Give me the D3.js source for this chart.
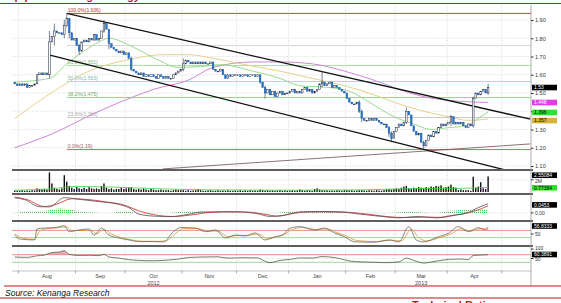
<!DOCTYPE html>
<html>
<head>
<meta charset="utf-8">
<title>Price chart with channel and Fibonacci levels</title>
<script src="https://cdn.jsdelivr.net/npm/d3@7"></script>
<style>
  body { margin: 0; background: #fff; }
  svg text { font-family: "Liberation Sans", Arial, sans-serif; }
</style>
</head>
<body>
<script>

// ---- data ----
var monthNames = ['Jul', 'Aug', 'Sep', 'Oct', 'Nov', 'Dec', 'Jan', 'Feb', 'Mar', 'Apr']
var monthFirst = ['2012-07-30', '2012-08-01', '2012-09-01', '2012-10-01', '2012-11-01', '2012-12-01',
                  '2013-01-01', '2013-02-01', '2013-03-01', '2013-04-01']

// daily closes per month
var closeJul = [1.55, 1.54]
var closeAug = [1.55, 1.54, 1.55, 1.53, 1.54, 1.54, 1.55, 1.60, 1.61, 1.60, 1.61, 1.60, 1.78, 1.81, 1.84, 1.83, 1.83, 1.82, 1.87, 1.91, 1.83, 1.79, 1.80]
var closeSep = [1.76, 1.73, 1.78, 1.79, 1.78, 1.80, 1.79, 1.82, 1.79, 1.80, 1.84, 1.88, 1.85, 1.77, 1.75, 1.74, 1.73, 1.72, 1.73, 1.71]
var closeOct = [1.72, 1.69, 1.63, 1.62, 1.61, 1.60, 1.61, 1.59, 1.60, 1.59, 1.60, 1.59, 1.58, 1.60, 1.59, 1.58, 1.59, 1.58, 1.58, 1.60, 1.61, 1.62, 1.63]
var closeNov = [1.66, 1.68, 1.67, 1.66, 1.67, 1.66, 1.67, 1.66, 1.67, 1.66, 1.66, 1.67, 1.63, 1.62, 1.62, 1.63, 1.60, 1.58, 1.60, 1.59, 1.60, 1.60]
var closeDec = [1.60, 1.59, 1.60, 1.60, 1.59, 1.60, 1.60, 1.59, 1.60, 1.56, 1.53, 1.50, 1.52, 1.49, 1.51, 1.48, 1.50, 1.51, 1.49, 1.50, 1.50]
var closeJan = [1.51, 1.52, 1.50, 1.51, 1.50, 1.52, 1.53, 1.51, 1.52, 1.50, 1.51, 1.52, 1.55, 1.56, 1.54, 1.55, 1.56, 1.53, 1.54, 1.53, 1.52, 1.51, 1.50]
var closeFeb = [1.47, 1.45, 1.44, 1.44, 1.45, 1.40, 1.36, 1.35, 1.35, 1.36, 1.35, 1.36, 1.35, 1.34, 1.33, 1.33, 1.31, 1.28, 1.25, 1.29]
var closeMar = [1.31, 1.33, 1.32, 1.34, 1.40, 1.38, 1.32, 1.29, 1.27, 1.28, 1.23, 1.21, 1.24, 1.27, 1.26, 1.29, 1.28, 1.31, 1.33, 1.32, 1.33]
var closeApr = [1.34, 1.37, 1.33, 1.34, 1.33, 1.34, 1.32, 1.31, 1.33, 1.32, 1.47, 1.50, 1.49, 1.51, 1.52, 1.50, 1.53]

// daily volume per month (millions)
var volJul = [0.25, 0.2]
var volAug = [0.2, 0.3, 0.2, 0.25, 0.2, 0.3, 0.25, 0.6, 0.5, 0.45, 0.5, 0.4, 3.2, 1.4, 0.7, 0.5, 0.4, 0.6, 2.75, 1.7, 1.0, 0.7, 0.5]
var volSep = [0.8, 0.6, 0.5, 0.7, 0.5, 0.8, 0.6, 0.5, 0.6, 0.5, 1.0, 1.4, 0.7, 0.5, 0.6, 0.4, 0.5, 0.5, 0.7, 0.5]
var volOct = [0.6, 0.7, 0.8, 0.5, 0.4, 0.5, 0.4, 0.6, 0.4, 0.3, 0.5, 0.4, 0.3, 0.3, 0.4, 0.3, 0.3, 0.3, 0.2, 0.3, 0.4, 0.3, 0.3]
var volNov = [0.3, 0.2, 0.3, 0.2, 0.25, 0.3, 0.5, 0.3, 0.2, 0.2, 0.25, 0.3, 0.2, 0.2, 0.3, 0.2, 0.25, 0.2, 0.3, 0.2, 0.2, 0.25]
var volDec = [0.2, 0.3, 0.2, 0.25, 0.2, 0.3, 0.2, 0.25, 0.2, 0.4, 0.3, 0.2, 0.3, 0.2, 0.25, 0.2, 0.2, 0.3, 0.2, 0.25, 0.2]
var volJan = [0.2, 0.3, 0.2, 0.25, 0.4, 0.3, 0.2, 0.3, 0.25, 0.2, 0.5, 0.6, 0.4, 0.3, 0.25, 0.3, 0.2, 0.25, 0.2, 0.3, 0.25, 0.2, 0.3]
var volFeb = [0.3, 0.25, 0.3, 0.2, 0.25, 0.3, 0.3, 0.25, 0.2, 0.3, 0.25, 0.2, 0.3, 0.25, 0.2, 0.3, 0.45, 0.5, 0.4, 0.5]
var volMar = [0.6, 0.5, 0.7, 0.9, 1.0, 0.6, 0.5, 0.7, 0.6, 0.8, 0.7, 0.6, 0.8, 0.7, 0.9, 0.8, 1.0, 0.9, 1.1, 0.7, 0.8]
var volApr = [0.9, 1.2, 0.8, 0.7, 0.3, 0.4, 0.3, 0.3, 0.3, 0.2, 2.5, 0.7, 0.9, 1.6, 0.6, 0.5, 2.55]

// [day index, high, low] for candles with visible wicks
var wicks = [[14, 1.84, 1.58], [16, 1.88, 1.76], [20, 1.90, 1.80], [21, 1.936, 1.86], [22, 1.90, 1.80],
             [26, 1.77, 1.71], [36, 1.90, 1.83], [38, 1.82, 1.74], [47, 1.70, 1.62], [68, 1.69, 1.62],
             [99, 1.60, 1.55], [101, 1.54, 1.47], [124, 1.62, 1.53], [139, 1.46, 1.39], [140, 1.41, 1.34],
             [151, 1.32, 1.26], [152, 1.29, 1.23], [158, 1.42, 1.33], [165, 1.24, 1.19], [176, 1.38, 1.32],
             [185, 1.48, 1.31], [191, 1.55, 1.49]]

// moving averages [day index, value]
var maGreen = [[0, 1.56], [14, 1.58], [21, 1.66], [28, 1.73], [34, 1.78], [38, 1.80], [48, 1.75], [58, 1.68],
               [66, 1.64], [75, 1.645], [83, 1.655], [96, 1.62], [107, 1.58], [115, 1.54], [127, 1.53], [135, 1.51],
               [143, 1.45], [153, 1.37], [161, 1.33], [168, 1.30], [175, 1.31], [182, 1.32], [187, 1.36], [191, 1.396]]
var maYellow = [[0, 1.36], [17, 1.52], [30, 1.62], [45, 1.68], [60, 1.71], [70, 1.71], [80, 1.69], [95, 1.65],
                [107, 1.62], [120, 1.58], [133, 1.54], [145, 1.49], [155, 1.44], [165, 1.40], [175, 1.37],
                [183, 1.35], [191, 1.357]]
var maMagenta = [[0, 1.20], [14, 1.27], [34, 1.40], [48, 1.48], [56, 1.52], [70, 1.57], [80, 1.64], [96, 1.67],
                 [107, 1.67], [120, 1.66], [133, 1.62], [145, 1.57], [155, 1.52], [165, 1.48], [175, 1.46], [191, 1.448]]

// trend lines [[index, price], [index, price]]
var channelUpper = [[21, 1.936], [208, 1.357]]
var channelLower = [[14.2, 1.708], [198, 1.078]]
var supportLine = [[59.7, 1.084], [208, 1.221]]

// Fibonacci retracement
var fibPct = ['100.0%', '76.4%', '61.8%', '50.0%', '38.2%', '23.6%', '0.0%']
var fibPrice = [1.936, 1.760, 1.651, 1.563, 1.475, 1.366, 1.19]
var fibStart = 21

// volume moving average
var volMA = [[0, 0.3], [14, 0.5], [25, 0.9], [40, 0.8], [60, 0.5], [80, 0.35], [110, 0.3], [140, 0.35],
             [160, 0.55], [180, 0.6], [191, 0.77]]

// MACD panel
var macdLine = [[0, 0.085], [4, 0.075], [10, 0.035], [14, 0.034], [20, 0.086], [27, 0.075], [34, 0.064], [42, 0.048],
                [46, 0.03], [50, -0.006], [56, -0.018], [63, -0.021], [70, -0.008], [75, 0.005], [85, 0.007], [91, 0.006],
                [98, -0.005], [103, -0.02], [108, -0.015], [115, 0.006], [125, 0.008], [133, 0.004], [140, -0.008],
                [148, -0.02], [155, -0.028], [160, -0.022], [163, -0.02], [170, -0.028], [176, -0.015], [183, 0.002],
                [187, 0.03], [191, 0.052]]
var macdSignal = [[0, 0.09], [5, 0.075], [12, 0.036], [17, 0.05], [23, 0.08], [30, 0.075], [37, 0.062], [44, 0.045],
                  [50, 0.012], [56, -0.01], [64, -0.02], [72, -0.01], [78, 0.002], [88, 0.006], [95, 0.004], [101, -0.008],
                  [106, -0.018], [112, -0.004], [118, 0.006], [128, 0.006], [136, 0.002], [143, -0.008], [151, -0.022],
                  [158, -0.026], [165, -0.024], [172, -0.025], [178, -0.012], [185, 0.008], [191, 0.04]]
var macdHist = [[0, -0.005], [5, 0.008], [10, 0.01], [14, 0.015], [18, 0.025], [22, 0.02], [27, 0.005], [32, 0.002],
                [38, -0.004], [42, 0.008], [46, 0.01], [50, -0.008], [56, -0.005], [62, 0], [68, 0.008], [74, 0.01],
                [80, 0.004], [88, 0.002], [96, -0.006], [104, -0.004], [110, 0.008], [116, 0.01], [124, 0.009],
                [132, 0.004], [140, -0.006], [150, -0.004], [158, 0.006], [164, 0.002], [170, 0], [176, 0.012],
                [182, 0.018], [188, 0.02], [191, 0.018]]

// oscillator panel
var stochDark = [[0, 44], [2, 22], [8, 17], [9, 78], [12, 83], [16, 85], [20, 96], [22, 63], [26, 72], [30, 78], [32, 44],
                 [35, 83], [38, 44], [42, 28], [46, 17], [50, 8], [56, 8], [60, 6], [64, 63], [67, 86], [73, 83], [77, 63],
                 [81, 72], [85, 28], [89, 44], [93, 39], [97, 56], [101, 17], [105, 35], [108, 44], [111, 82], [115, 91],
                 [121, 72], [125, 83], [129, 56], [133, 35], [137, 7], [145, 4], [151, 17], [155, 6], [159, 91], [162, 17],
                 [165, 6], [171, 35], [175, 54], [179, 91], [183, 63], [187, 85], [190, 72], [191, 88]]
var stochOrange = [[0, 50], [3, 28], [8, 20], [10, 65], [13, 80], [17, 84], [21, 90], [23, 70], [27, 70], [31, 70], [33, 52],
                   [36, 75], [39, 50], [43, 30], [47, 18], [51, 10], [57, 9], [61, 12], [65, 55], [68, 80], [74, 80], [78, 66],
                   [82, 66], [86, 35], [90, 42], [94, 42], [98, 50], [102, 25], [106, 35], [109, 50], [112, 75], [116, 86],
                   [122, 75], [126, 78], [130, 58], [134, 38], [138, 14], [146, 8], [152, 16], [156, 12], [160, 75], [163, 30],
                   [166, 12], [172, 32], [176, 50], [180, 80], [184, 66], [188, 80], [191, 78]]

// RSI panel
var rsiLine = [[0, 58], [5, 56], [9, 64], [12, 68], [14, 78], [16, 82], [18, 84], [20, 91], [22, 72], [26, 66], [30, 67],
               [34, 65], [36, 72], [38, 58], [42, 52], [46, 44], [50, 40], [56, 38], [62, 42], [66, 47], [70, 55], [76, 58],
               [82, 59], [86, 52], [92, 54], [98, 53], [100, 42], [103, 28], [107, 40], [111, 45], [115, 53], [120, 52],
               [124, 60], [127, 58], [131, 50], [135, 37], [140, 32], [145, 30], [150, 28], [155, 32], [158, 52], [161, 40],
               [165, 26], [170, 36], [175, 45], [180, 47], [183, 44], [185, 66], [188, 68], [191, 70]]

// tick labels
var priceTicks = [1.10, 1.20, 1.30, 1.40, 1.50, 1.60, 1.70, 1.80, 1.90]
var yearLabels = [['2012', 'Oct'], ['2013', 'Mar']]

// ---- build the trading-day table ----
var closesByMonth = [closeJul, closeAug, closeSep, closeOct, closeNov, closeDec, closeJan, closeFeb, closeMar, closeApr]
var volsByMonth = [volJul, volAug, volSep, volOct, volNov, volDec, volJan, volFeb, volMar, volApr]
var parseDay = d3.timeParse('%Y-%m-%d')
var days = [], months = []

monthFirst.forEach(function (s, m) {
  var start = parseDay(s)
  var end = d3.timeMonth.offset(d3.timeMonth.floor(start), 1)
  var wk = d3.timeDay.range(start, end).filter(function (d) { return d.getDay() > 0 && d.getDay() < 6 })
  months.push({ name: monthNames[m], first: days.length, count: wk.length })
  closesByMonth[m].forEach(function (c, k) {
    days.push({ i: days.length, date: wk[k], close: c, vol: volsByMonth[m][k] })
  })
})
days.forEach(function (d, k) {
  d.open = k ? days[k - 1].close : 1.56
  d.high = Math.max(d.open, d.close)
  d.low = Math.min(d.open, d.close)
})
wicks.forEach(function (w) { days[w[0]].high = w[1]; days[w[0]].low = w[2] })

// ---- scales ----
var left = 12, right = 531
var x = d3.scaleLinear().domain([-1.1, 208.3]).range([left, right])
var yP = d3.scaleLinear().domain([1.10, 1.90]).range([166, 20])
var yV = d3.scaleLinear().domain([0, 3]).range([192, 173.7])
var yM = d3.scaleLinear().domain([-0.04, 0.10]).range([220, 195.2])
var yS = d3.scaleLinear().domain([0, 100]).range([243, 225])
var yR = d3.scaleLinear().domain([0, 100]).range([268, 249])

var svg = d3.select('body').append('svg').attr('width', 561).attr('height', 303)

var defs = svg.append('defs')
defs.append('clipPath').attr('id', 'clipP').append('rect').attr('x', left).attr('y', 5).attr('width', right - left).attr('height', 164)
var pat = defs.append('pattern').attr('id', 'histPat').attr('patternUnits', 'userSpaceOnUse').attr('width', 2).attr('height', 2)
pat.append('rect').attr('x', 0).attr('y', 0).attr('width', 0.9).attr('height', 1.2).attr('fill', '#3dbb3d')

// ---- header (cut off at the top edge, as in the source) ----
svg.append('text').attr('x', 2).attr('y', 0.3).attr('fill', '#c4161c')
  .attr('font-size', 11).attr('font-weight', 'bold').text('Top pick: Trading Strategy')
svg.append('line').attr('x1', 0).attr('x2', 561).attr('y1', 3.5).attr('y2', 3.5).attr('stroke', '#c4161c').attr('stroke-width', 1)

// ---- grid ----
var grid = svg.append('g').attr('id', 'grid')
var bounds = months.map(function (m) { return m.first - 0.5 }).slice(1)
var lastM = months[months.length - 1]
bounds.push(lastM.first + lastM.count - 0.5)

grid.selectAll('line.v').data(bounds).join('line').attr('class', 'v')
  .attr('x1', function (d) { return x(d) }).attr('x2', function (d) { return x(d) })
  .attr('y1', 5).attr('y2', 271)
  .attr('stroke', '#bdbdbd').attr('stroke-width', 0.6).attr('stroke-dasharray', '1,1.5')

grid.selectAll('line.hp').data(priceTicks).join('line').attr('class', 'hp')
  .attr('x1', left).attr('x2', right)
  .attr('y1', function (d) { return yP(d) }).attr('y2', function (d) { return yP(d) })
  .attr('stroke', '#c4c4c4').attr('stroke-width', 0.6).attr('stroke-dasharray', '1,1.5')

var subGrid = [[yV, 2], [yM, 0], [yS, 50], [yR, 50]]
subGrid.forEach(function (g) {
  grid.append('line').attr('x1', left).attr('x2', right)
    .attr('y1', g[0](g[1])).attr('y2', g[0](g[1]))
    .attr('stroke', '#c4c4c4').attr('stroke-width', 0.6).attr('stroke-dasharray', '1,1.5')
})

// ---- price panel ----
var pricePanel = svg.append('g').attr('clip-path', 'url(#clipP)')

var fibColor = { '100.0%': '#d9423a', '76.4%': '#d6d6d6', '61.8%': '#a8e0a0', '50.0%': '#9ee3ea',
                 '38.2%': '#86d986', '23.6%': '#c8c8c8', '0.0%': '#c46a6a' }
fibPct.forEach(function (p, k) {
  pricePanel.append('line').attr('x1', x(fibStart)).attr('x2', right)
    .attr('y1', yP(fibPrice[k])).attr('y2', yP(fibPrice[k]))
    .attr('stroke', fibColor[p]).attr('stroke-width', 1)
  if (p !== '76.4%') {
    pricePanel.append('text').attr('x', x(fibStart) + 1).attr('y', yP(fibPrice[k]) - 1.2)
      .attr('font-size', 5).attr('fill', p === '23.6%' ? '#aaa' : d3.color(fibColor[p]).darker(0.6))
      .text(p + '(' + fibPrice[k] + ')')
  }
})

var maLine = d3.line().x(function (d) { return x(d[0]) }).y(function (d) { return yP(d[1]) }).curve(d3.curveMonotoneX)
pricePanel.append('path').attr('d', maLine(maMagenta)).attr('fill', 'none').attr('stroke', '#cf86d6').attr('stroke-width', 1)
pricePanel.append('path').attr('d', maLine(maYellow)).attr('fill', 'none').attr('stroke', '#e6d08a').attr('stroke-width', 1)
pricePanel.append('path').attr('d', maLine(maGreen)).attr('fill', 'none').attr('stroke', '#98d98e').attr('stroke-width', 1)

var straight = d3.line().x(function (d) { return x(d[0]) }).y(function (d) { return yP(d[1]) })
pricePanel.append('path').attr('d', straight(supportLine)).attr('stroke', '#6b5050').attr('stroke-width', 0.8).attr('fill', 'none')
pricePanel.append('path').attr('d', straight(channelUpper)).attr('stroke', '#111').attr('stroke-width', 1.3).attr('fill', 'none')
pricePanel.append('path').attr('d', straight(channelLower)).attr('stroke', '#111').attr('stroke-width', 1.3).attr('fill', 'none')

// candles
var candles = pricePanel.append('g').attr('id', 'candles')
candles.selectAll('line').data(days).join('line')
  .attr('x1', function (d) { return x(d.i) }).attr('x2', function (d) { return x(d.i) })
  .attr('y1', function (d) { return yP(d.high) }).attr('y2', function (d) { return yP(d.low) })
  .attr('stroke', '#1b2a48').attr('stroke-width', 0.6)
candles.selectAll('rect').data(days).join('rect')
  .attr('x', function (d) { return x(d.i) - 0.8 })
  .attr('width', 1.6)
  .attr('y', function (d) { return yP(Math.max(d.open, d.close)) })
  .attr('height', function (d) { return Math.max(0.8, Math.abs(yP(d.open) - yP(d.close))) })
  .attr('fill', function (d) { return d.close < d.open ? '#2a78d2' : '#ffffff' })
  .attr('stroke', function (d) { return d.close < d.open ? '#1f5fa8' : '#14213d' })
  .attr('stroke-width', 0.5)

// ---- volume panel ----
svg.append('g').selectAll('rect').data(days).join('rect')
  .attr('x', function (d) { return x(d.i) - 0.7 })
  .attr('width', 1.4)
  .attr('y', function (d) { return yV(d.vol) })
  .attr('height', function (d) { return yV(0) - yV(d.vol) })
  .attr('fill', '#111')
svg.append('path')
  .attr('d', d3.line().x(function (d) { return x(d[0]) }).y(function (d) { return yV(d[1]) }).curve(d3.curveMonotoneX)(volMA))
  .attr('fill', 'none').attr('stroke', '#3fcf3f').attr('stroke-width', 0.8)

// ---- MACD panel ----
svg.append('path')
  .attr('d', d3.area().x(function (d) { return x(d[0]) }).y0(yM(0)).y1(function (d) { return yM(d[1]) }).curve(d3.curveMonotoneX)(macdHist))
  .attr('fill', 'url(#histPat)')
var mLine = d3.line().x(function (d) { return x(d[0]) }).y(function (d) { return yM(d[1]) }).curve(d3.curveMonotoneX)
svg.append('path').attr('d', mLine(macdSignal)).attr('fill', 'none').attr('stroke', '#d9534f').attr('stroke-width', 1)
svg.append('path').attr('d', mLine(macdLine)).attr('fill', 'none').attr('stroke', '#5b4a5a').attr('stroke-width', 0.8)

// ---- oscillator panel ----
svg.append('line').attr('x1', left).attr('x2', right).attr('y1', yS(70)).attr('y2', yS(70)).attr('stroke', '#e07a6a').attr('stroke-width', 0.8)
svg.append('line').attr('x1', left).attr('x2', right).attr('y1', yS(30)).attr('y2', yS(30)).attr('stroke', '#7fd67f').attr('stroke-width', 0.8)
var sLine = d3.line().x(function (d) { return x(d[0]) }).y(function (d) { return yS(d[1]) }).curve(d3.curveMonotoneX)
svg.append('path').attr('d', sLine(stochOrange)).attr('fill', 'none').attr('stroke', '#e0a050').attr('stroke-width', 0.9)
svg.append('path').attr('d', sLine(stochDark)).attr('fill', 'none').attr('stroke', '#555').attr('stroke-width', 0.7)

// ---- RSI panel ----
defs.append('clipPath').attr('id', 'clipOver').append('rect').attr('x', left).attr('y', 240).attr('width', right - left).attr('height', yR(70) - 240)
var rLine = d3.line().x(function (d) { return x(d[0]) }).y(function (d) { return yR(d[1]) }).curve(d3.curveMonotoneX)
svg.append('path')
  .attr('d', d3.area().x(function (d) { return x(d[0]) }).y0(yR(70)).y1(function (d) { return yR(d[1]) }).curve(d3.curveMonotoneX)(rsiLine))
  .attr('clip-path', 'url(#clipOver)').attr('fill', '#f2a7b0')
svg.append('line').attr('x1', left).attr('x2', right).attr('y1', yR(70)).attr('y2', yR(70)).attr('stroke', '#e07a6a').attr('stroke-width', 0.8)
svg.append('line').attr('x1', left).attr('x2', right).attr('y1', yR(30)).attr('y2', yR(30)).attr('stroke', '#7fd67f').attr('stroke-width', 0.8)
svg.append('path').attr('d', rLine(rsiLine)).attr('fill', 'none').attr('stroke', '#4f5f45').attr('stroke-width', 0.8)

// ---- panel separators and frame ----
var seps = [170, 194, 221, 246]
svg.selectAll('line.sep').data(seps).join('line').attr('class', 'sep')
  .attr('x1', left).attr('x2', right + 2).attr('y1', function (d) { return d }).attr('y2', function (d) { return d })
  .attr('stroke', '#5e5e5e').attr('stroke-width', 2)
svg.append('line').attr('x1', right).attr('x2', right).attr('y1', 5).attr('y2', 286).attr('stroke', '#9a9a9a').attr('stroke-width', 0.8)
svg.append('line').attr('x1', left).attr('x2', right).attr('y1', 271).attr('y2', 271).attr('stroke', '#9a9a9a').attr('stroke-width', 0.6)

// ---- right axes ----
var axP = svg.append('g').attr('transform', 'translate(' + right + ',0)')
  .call(d3.axisRight(yP).tickValues(priceTicks).tickSize(2.5).tickFormat(d3.format('.2f')))
axP.select('.domain').remove()
axP.selectAll('text').attr('font-size', 5.5).attr('fill', '#333').attr('x', 4)
axP.selectAll('line').attr('stroke', '#333')

var subTicks = [[yV, 2, '2M', 182.8], [yM, 0, '0.00', 214.5], [yS, 50, '50', 235.5], [yR, 100, '100', 250], [yR, 50, '50', 261]]
subTicks.forEach(function (t) {
  svg.append('line').attr('x1', right).attr('x2', right + 2.5).attr('y1', t[0](t[1])).attr('y2', t[0](t[1])).attr('stroke', '#333')
  svg.append('text').attr('x', right + 4).attr('y', t[3]).attr('font-size', 5).attr('fill', '#333').text(t[2])
})

// value tags at right
function tag(yy, label, fill, color) {
  svg.append('rect').attr('x', right + 1).attr('y', yy - 2.8).attr('width', 25).attr('height', 5.6).attr('fill', fill)
  svg.append('text').attr('x', right + 3).attr('y', yy + 1.8).attr('font-size', 5).attr('fill', color).text(label)
}
var lastDay = days[days.length - 1]
tag(yP(lastDay.close), lastDay.close.toFixed(2), '#000', '#fff')
tag(yP(maMagenta[maMagenta.length - 1][1]), '1.448', '#e23de6', '#fff')
tag(yP(maGreen[maGreen.length - 1][1]) + 0.5, '1.396', '#2fe02f', '#000')
tag(yP(maYellow[maYellow.length - 1][1]) + 1.5, '1.357', '#d8b33a', '#000')
tag(yV(lastDay.vol) - 1.2, '2.55084', '#000', '#fff')
tag(yV(volMA[volMA.length - 1][1]) + 0.5, '0.77384', '#2fe02f', '#000')
tag(yM(0.0453), '0.0453', '#000', '#fff')
tag(226, '56.8333', '#000', '#fff')
tag(254.5, '60.3891', '#000', '#fff')

// ---- bottom time axis ----
var axis = svg.append('g')
axis.selectAll('line').data(bounds).join('line')
  .attr('x1', function (d) { return x(d) }).attr('x2', function (d) { return x(d) })
  .attr('y1', 271).attr('y2', 273.5).attr('stroke', '#777').attr('stroke-width', 0.6)
var labelled = months.filter(function (m) { return m.count > 5 })
axis.selectAll('text.m').data(labelled).join('text').attr('class', 'm')
  .attr('x', function (m) { return x(m.first + (m.count - 1) / 2) }).attr('y', 278)
  .attr('text-anchor', 'middle').attr('font-size', 5.5).attr('fill', '#444')
  .text(function (m) { return m.name })
yearLabels.forEach(function (yl) {
  var m = months.filter(function (mm) { return mm.name === yl[1] })[0]
  axis.append('text').attr('x', x(m.first + (m.count - 1) / 2)).attr('y', 284.5)
    .attr('text-anchor', 'middle').attr('font-size', 5.5).attr('fill', '#444').text(yl[0])
})

// ---- footer ----
svg.append('line').attr('x1', 4).attr('x2', 561).attr('y1', 286).attr('y2', 286).attr('stroke', '#c4161c').attr('stroke-width', 1)
svg.append('text').attr('x', 5).attr('y', 295.5).attr('font-size', 8.5).attr('font-style', 'italic').attr('fill', '#111')
  .text('Source: Kenanga Research')
svg.append('line').attr('x1', 0).attr('x2', 561).attr('y1', 298).attr('y2', 298).attr('stroke', '#c4161c').attr('stroke-width', 1)
svg.append('text').attr('x', 412).attr('y', 309).attr('font-size', 11).attr('font-weight', 'bold').attr('fill', '#c4161c')
  .text('Technical Ratios')

</script>
</body>
</html>
